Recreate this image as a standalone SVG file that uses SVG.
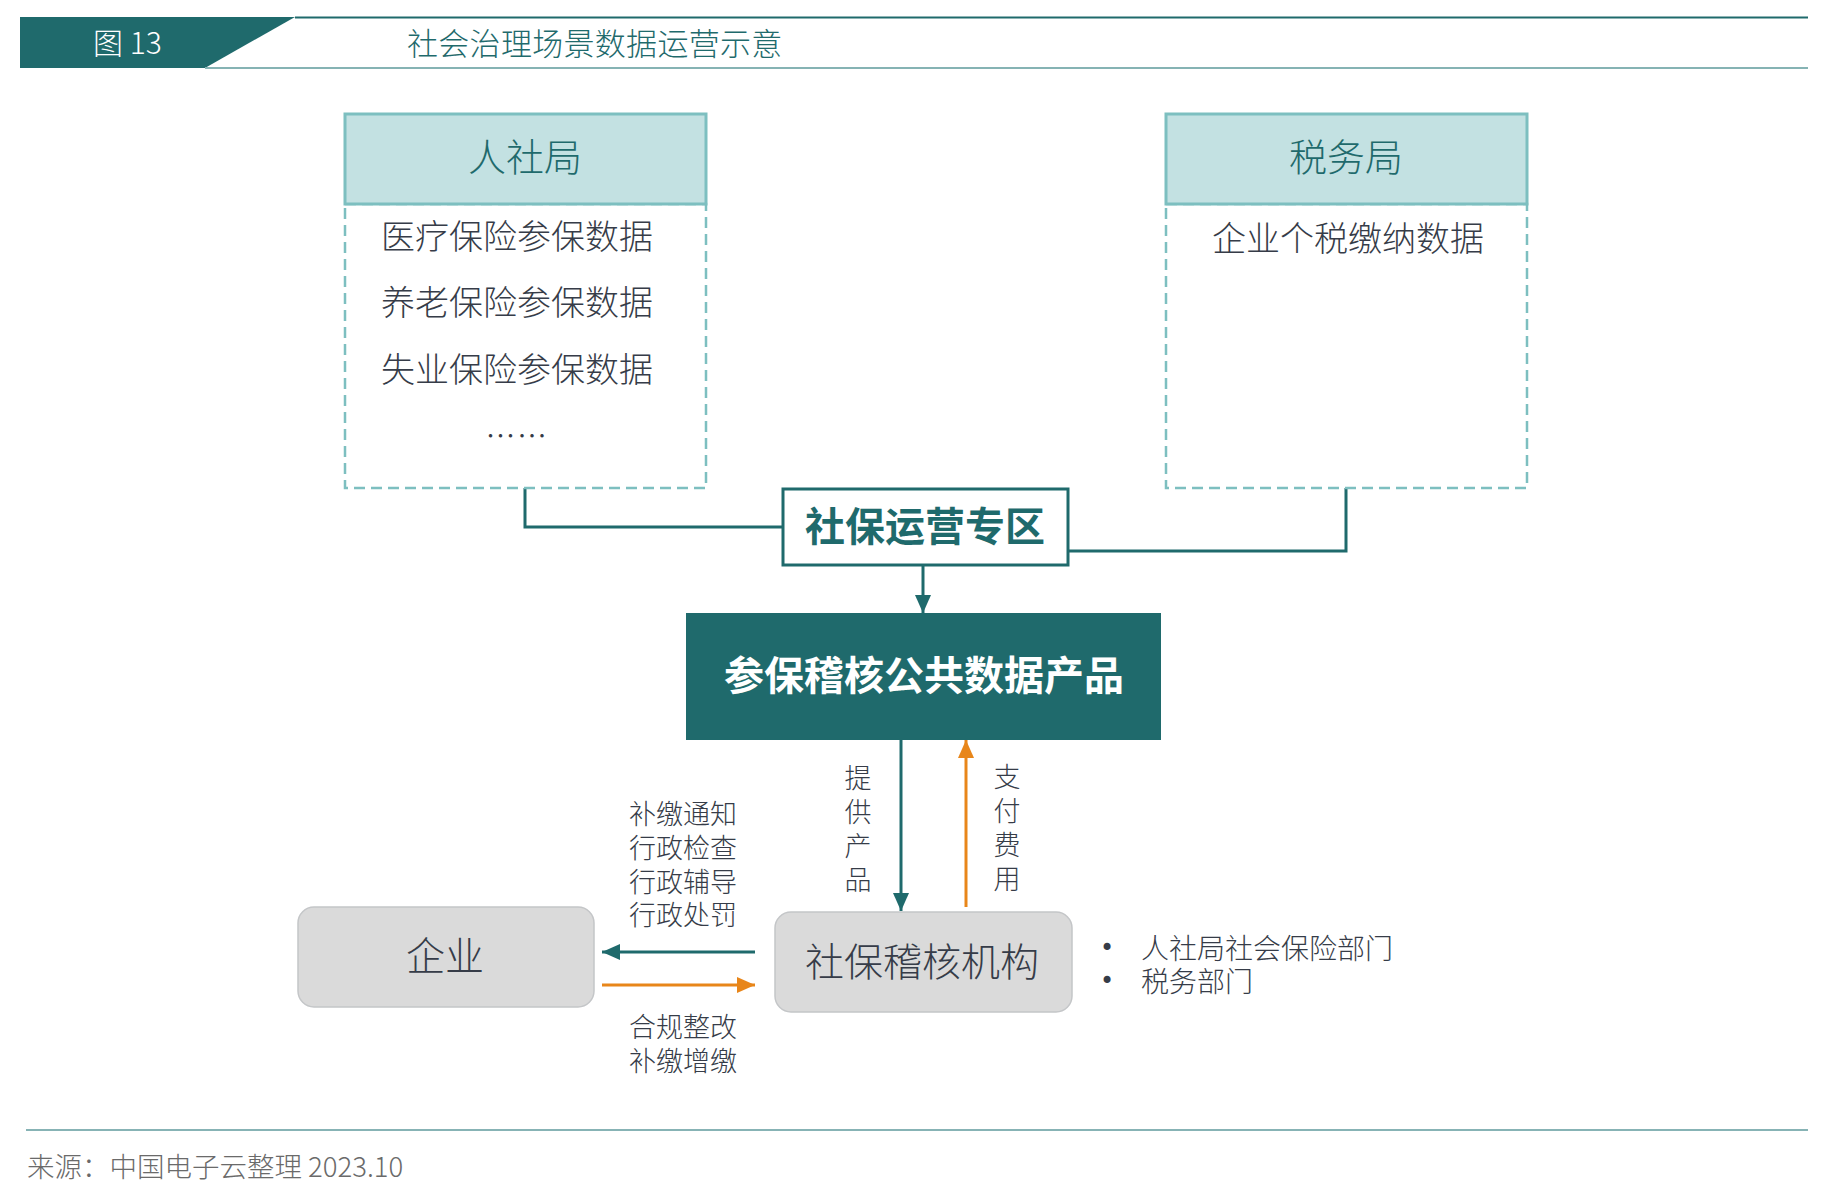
<svg xmlns="http://www.w3.org/2000/svg" width="1835" height="1188" viewBox="0 0 1835 1188">
<style>
text{font-family:"Noto Sans CJK SC","Noto Sans",sans-serif;dominant-baseline:central;font-weight:300;}
.teal{fill:#1f6a6c;}
.dark{fill:#363c48;}
.hdr{fill:#c3e1e2;stroke:#7dbfc0;stroke-width:3;}
.body{fill:#fff;stroke:#7dbfc0;stroke-width:2.5;stroke-dasharray:11 6;}
.gray{fill:#dadada;stroke:#c4c6c8;stroke-width:1.5;}
.ln{fill:none;stroke:#1f6a6c;stroke-width:3;}
.lo{fill:none;stroke:#e8861a;stroke-width:3;}
.b{font-weight:bold;}
.bul{font-family:"DejaVu Sans","Liberation Sans",sans-serif;font-weight:400;}
</style>
<defs>
<marker id="at" markerUnits="userSpaceOnUse" markerWidth="18" markerHeight="16" refX="18" refY="8" orient="auto"><path d="M0,0 L18,8 L0,16 z" fill="#1f6a6c"/></marker>
<marker id="ao" markerUnits="userSpaceOnUse" markerWidth="18" markerHeight="16" refX="18" refY="8" orient="auto"><path d="M0,0 L18,8 L0,16 z" fill="#e8861a"/></marker>
</defs>
<rect width="1835" height="1188" fill="#fff"/>
<g id="header">
<polygon points="20,17 295,17 205,68 20,68" fill="#1f6a6c"/>
<line x1="295" y1="17.5" x2="1808" y2="17.5" stroke="#1f6a6c" stroke-width="2"/>
<line x1="205" y1="68" x2="1808" y2="68" stroke="#86b3b4" stroke-width="2"/>
<text x="93" y="41" font-size="30" fill="#fff">图 13</text>
<text x="407" y="41" font-size="31" class="teal" letter-spacing="0.3">社会治理场景数据运营示意</text>
</g>
<g id="connectors">
<polyline class="ln" points="525,488 525,527 782,527"/>
<polyline class="ln" points="1068,551 1346,551 1346,488"/>
<line class="ln" x1="923" y1="566" x2="923" y2="613" marker-end="url(#at)"/>
<line class="ln" x1="901" y1="740" x2="901" y2="911" marker-end="url(#at)"/>
<line class="lo" x1="966" y1="907" x2="966" y2="740" marker-end="url(#ao)"/>
<line class="ln" x1="755" y1="952" x2="602" y2="952" marker-end="url(#at)"/>
<line class="lo" x1="602" y1="985" x2="755" y2="985" marker-end="url(#ao)"/>
</g>
<g id="renshe">
<rect class="body" x="345" y="204" width="361" height="284"/>
<rect class="hdr" x="345" y="114" width="361" height="90"/>
<text x="525" y="154" font-size="38" class="teal" text-anchor="middle">人社局</text>
<text x="517" y="234" font-size="34" class="dark" text-anchor="middle">医疗保险参保数据</text>
<text x="517" y="300" font-size="34" class="dark" text-anchor="middle">养老保险参保数据</text>
<text x="517" y="367" font-size="34" class="dark" text-anchor="middle">失业保险参保数据</text>
<text x="517" y="434" font-size="30" class="dark" text-anchor="middle" letter-spacing="1.5" font-weight="400">……</text>
</g>
<g id="shuiwu">
<rect class="body" x="1166" y="204" width="361" height="284"/>
<rect class="hdr" x="1166" y="114" width="361" height="90"/>
<text x="1346" y="154" font-size="38" class="teal" text-anchor="middle">税务局</text>
<text x="1348" y="236" font-size="34" class="dark" text-anchor="middle">企业个税缴纳数据</text>
</g>
<g id="zhuanqu">
<rect x="783" y="489" width="285" height="76" fill="#fff" stroke="#1f6a6c" stroke-width="3"/>
<text x="925" y="524" font-size="40" class="teal b" text-anchor="middle">社保运营专区</text>
</g>
<g id="product">
<rect x="686" y="613" width="475" height="127" fill="#1f6a6c"/>
<text x="924" y="673" font-size="40" class="b" fill="#fff" text-anchor="middle">参保稽核公共数据产品</text>
</g>
<g id="qiye">
<rect class="gray" x="298" y="907" width="296" height="100" rx="16"/>
<text x="445" y="953" font-size="39" class="dark" text-anchor="middle">企业</text>
</g>
<g id="jigou">
<rect class="gray" x="775" y="912" width="297" height="100" rx="16"/>
<text x="922" y="959" font-size="39" class="dark" text-anchor="middle">社保稽核机构</text>
</g>
<g id="labels" font-size="27">
<text x="858" y="776" text-anchor="middle" class="dark"><tspan x="858" y="776">提</tspan><tspan x="858" y="810">供</tspan><tspan x="858" y="844">产</tspan><tspan x="858" y="878">品</tspan></text>
<text x="1007" y="775" text-anchor="middle" class="dark"><tspan x="1007" y="775">支</tspan><tspan x="1007" y="809">付</tspan><tspan x="1007" y="843">费</tspan><tspan x="1007" y="877">用</tspan></text>
<text x="683" y="812" text-anchor="middle" class="dark"><tspan x="683" y="812">补缴通知</tspan><tspan x="683" y="846">行政检查</tspan><tspan x="683" y="880">行政辅导</tspan><tspan x="683" y="913">行政处罚</tspan></text>
<text x="683" y="1025" text-anchor="middle" class="dark"><tspan x="683" y="1025">合规整改</tspan><tspan x="683" y="1059">补缴增缴</tspan></text>
<text x="1107" y="948" font-size="24" text-anchor="middle" class="dark bul"><tspan x="1107" y="948">•</tspan><tspan x="1107" y="981">•</tspan></text>
<text x="1141" y="947" font-size="28" class="dark"><tspan x="1141" y="947">人社局社会保险部门</tspan><tspan x="1141" y="980">税务部门</tspan></text>
</g>
<g id="footer">
<line x1="26" y1="1130" x2="1808" y2="1130" stroke="#5f9a9c" stroke-width="1.5"/>
<text x="27" y="1165" font-size="27.5" fill="#6a6a6a">来源：中国电子云整理 2023.10</text>
</g>
</svg>
